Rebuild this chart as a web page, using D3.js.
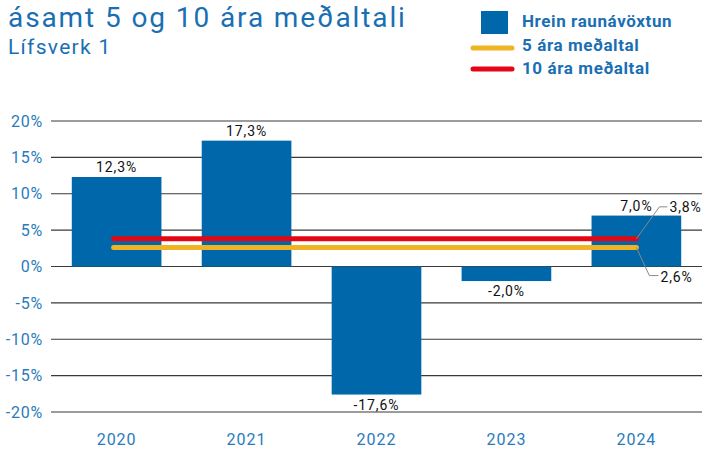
<!DOCTYPE html>
<html>
<head>
<meta charset="utf-8">
<script src="https://cdn.jsdelivr.net/npm/d3@7"></script>
<style>
  body { margin: 0; background: #fff; }
  text { font-family: Roboto, "DejaVu Sans", sans-serif; }
</style>
</head>
<body>
<svg id="drawing_region"></svg>
<script>
// data
var years = ['2020', '2021', '2022', '2023', '2024'];
var returns = [12.3, 17.3, -17.6, -2.0, 7.0];
var avg5 = 2.6;
var avg10 = 3.8;
var yticks = [20, 15, 10, 5, 0, -5, -10, -15, -20];

var width = 704;
var height = 450;
var margin = {top: 121, right: 2, bottom: 38, left: 51};
const inner_width = width - margin.left - margin.right;
const inner_height = height - margin.top - margin.bottom;

const blue = '#0067ab';
const textBlue = '#2a7bbd';

var svg = d3.select('#drawing_region')
    .attr('width', width)
    .attr('height', height);

// title
svg.append('text').attr('x', 8).attr('y', 27)
    .attr('font-size', 28).attr('letter-spacing', 1.9).attr('fill', '#1a6fb3')
    .text('ásamt 5 og 10 ára meðaltali');
svg.append('text').attr('x', 8).attr('y', 54)
    .attr('font-size', 21).attr('letter-spacing', 1.3).attr('fill', '#1a6fb3')
    .text('Lífsverk 1');

var chart = svg.append('g')
    .attr('transform', `translate(${margin.left}, ${margin.top})`);

const xscale = d3.scaleBand()
    .domain(years)
    .range([0, inner_width])
    .paddingInner(0.31)
    .paddingOuter(0.16);

const yscale = d3.scaleLinear()
    .domain([-20, 20])
    .range([inner_height, 0]);

// grid
chart.selectAll('.grid').data(yticks).enter().append('line')
    .attr('x1', 0).attr('x2', inner_width)
    .attr('y1', d => yscale(d)).attr('y2', d => yscale(d))
    .attr('stroke', '#3a3a3a').attr('stroke-width', 1.2);

// y axis labels
const yaxis = d3.axisLeft(yscale)
    .tickValues(yticks)
    .tickSize(0)
    .tickPadding(8)
    .tickFormat(d => d + '%');
const yaxis_group = chart.append('g').call(yaxis);
yaxis_group.select('.domain').remove();
yaxis_group.selectAll('text')
    .attr('font-size', 16).attr('letter-spacing', 0.8).attr('fill', textBlue)
    .attr('font-family', 'Roboto, sans-serif');

// x axis labels
const xaxis = d3.axisBottom(xscale).tickSize(0).tickPadding(22);
const xaxis_group = chart.append('g')
    .attr('transform', `translate(0, ${inner_height})`)
    .call(xaxis);
xaxis_group.select('.domain').remove();
xaxis_group.selectAll('text')
    .attr('font-size', 16).attr('letter-spacing', 1).attr('fill', textBlue)
    .attr('font-family', 'Roboto, sans-serif');

// bars
chart.selectAll('.bar').data(returns).enter().append('rect')
    .attr('x', (d, i) => xscale(years[i]))
    .attr('width', xscale.bandwidth())
    .attr('y', d => yscale(Math.max(0, d)))
    .attr('height', d => Math.abs(yscale(d) - yscale(0)))
    .attr('fill', blue);

// bar labels
const fmt = v => v.toFixed(1).replace('.', ',') + '%';
chart.selectAll('.lbl').data(returns).enter().append('text')
    .attr('x', (d, i) => xscale(years[i]) + xscale.bandwidth() / 2)
    .attr('y', d => d >= 0 ? yscale(d) - 5 : yscale(d) + 15)
    .attr('text-anchor', 'middle')
    .attr('font-size', 14).attr('letter-spacing', 0.9).attr('fill', '#111')
    .text(fmt);

// average lines
const x0 = xscale(years[0]) + xscale.bandwidth() / 2 - 3;
const x1 = xscale(years[4]) + xscale.bandwidth() / 2;
const avgs = [{v: avg5, c: '#f0b323'}, {v: avg10, c: '#e30613'}];
chart.selectAll('.avg').data(avgs).enter().append('line')
    .attr('x1', x0).attr('x2', x1)
    .attr('y1', d => yscale(d.v)).attr('y2', d => yscale(d.v))
    .attr('stroke', d => d.c).attr('stroke-width', 5)
    .attr('stroke-linecap', 'round');

// leader lines
const lead = d3.line();
chart.append('path')
    .attr('d', lead([[x1, yscale(avg10)], [x1 + 23, yscale(avg10) - 32], [x1 + 31, yscale(avg10) - 32]]))
    .attr('fill', 'none').attr('stroke', '#888').attr('stroke-width', 1);
chart.append('text')
    .attr('x', x1 + 33).attr('y', yscale(avg10) - 27)
    .attr('font-size', 14).attr('letter-spacing', 0.9).attr('fill', '#111')
    .text(fmt(avg10));
chart.append('path')
    .attr('d', lead([[x1, yscale(avg5)], [x1 + 13, yscale(avg5) + 28], [x1 + 22, yscale(avg5) + 28]]))
    .attr('fill', 'none').attr('stroke', '#888').attr('stroke-width', 1);
chart.append('text')
    .attr('x', x1 + 24).attr('y', yscale(avg5) + 34)
    .attr('font-size', 14).attr('letter-spacing', 0.9).attr('fill', '#111')
    .text(fmt(avg5));

// legend
var legend = svg.append('g');
legend.append('rect').attr('x', 481).attr('y', 11).attr('width', 27).attr('height', 23).attr('fill', blue);
legend.append('line').attr('x1', 473).attr('x2', 512).attr('y1', 48).attr('y2', 48)
    .attr('stroke', '#f0b323').attr('stroke-width', 5).attr('stroke-linecap', 'round');
legend.append('line').attr('x1', 473).attr('x2', 512).attr('y1', 69).attr('y2', 69)
    .attr('stroke', '#e30613').attr('stroke-width', 5).attr('stroke-linecap', 'round');
var legendText = ['Hrein raunávöxtun', '5 ára meðaltal', '10 ára meðaltal'];
legend.selectAll('.lt').data(legendText).enter().append('text')
    .attr('x', 522).attr('y', (d, i) => 27 + i * 23.5)
    .attr('font-size', 17).attr('letter-spacing', 0.6).attr('font-weight', 'bold').attr('fill', '#1a6fb3')
    .text(d => d);
</script>
</body>
</html>
